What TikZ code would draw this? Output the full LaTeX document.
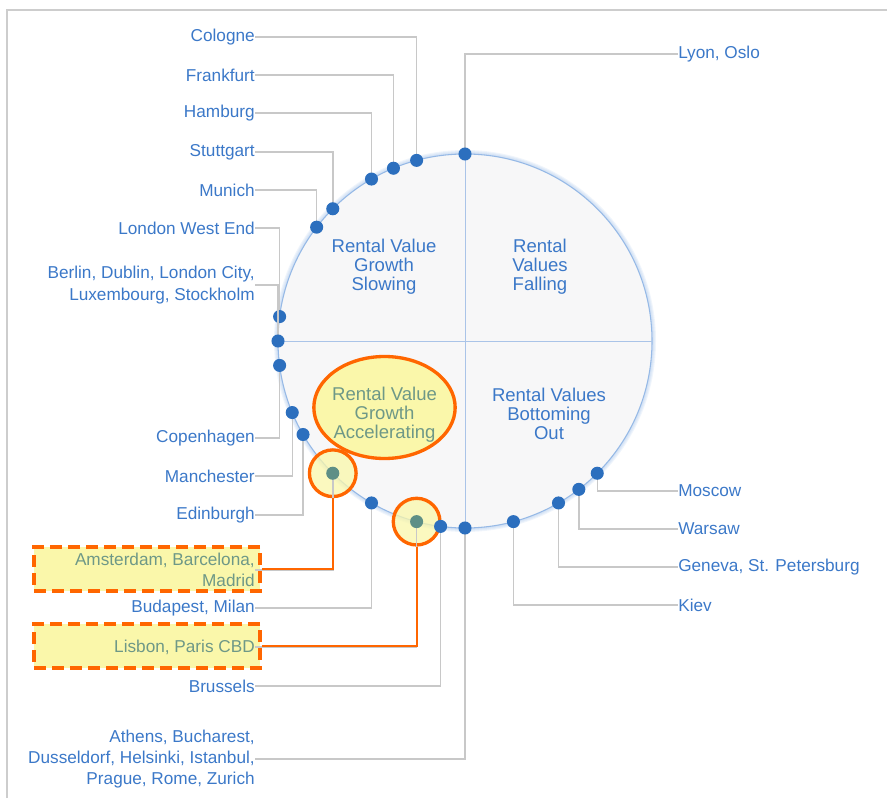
\documentclass[tikz,border=0pt]{standalone}
\usepackage{fontspec}
\setmainfont{Liberation Sans}
\usetikzlibrary{positioning, shapes.geometric}
\definecolor{rvBlue}{RGB}{ 59,120,200}
\definecolor{rvDot}{RGB}{ 44,111,190}
\definecolor{rvLine}{RGB}{200,200,200}
\definecolor{rvRim}{RGB}{150,185,230}
\definecolor{rvQuad}{RGB}{170,196,232}
\definecolor{rvFill}{RGB}{247,247,248}
\definecolor{rvOrange}{RGB}{255,102,  0}
\definecolor{rvYellow}{RGB}{250,247,170}
\definecolor{rvGreen}{RGB}{110,152,135}
\definecolor{rvTeal}{RGB}{ 94,143,134}
\definecolor{rvFrame}{RGB}{205,205,205}
\def\R{140.25pt}

\begin{document}
\begin{tikzpicture}[x=0.75pt, y=-0.75pt,
    lbl/.style={font=\fontsize{12.9}{16}\selectfont, inner sep=0pt, align=right},
    lbl-n/.style={lbl, text=rvBlue},
    lbl-h/.style={lbl, text=rvGreen},
    dot/.style={circle, inner sep=0pt, minimum size=9.8pt},
    dot-n/.style={dot, fill=rvDot},
    dot-h/.style={dot, fill=rvTeal},
    conn/.style={draw=rvLine, line width=1.1pt},
    quad/.style={text=rvBlue, font=\fontsize{13.9}{14.2}\selectfont, align=center},
    accel/.style={ellipse, draw=rvOrange, line width=2.5pt, fill=rvYellow,
                  inner sep=0pt, minimum width=106pt, minimum height=76.5pt},
    hilite/.style={circle, draw=rvOrange, line width=2.5pt, fill=rvYellow, fill opacity=0.75,
                   inner sep=0pt, minimum size=35pt},
    pickbox/.style={draw=rvOrange, line width=2.8pt, dash pattern=on 9pt off 4.5pt,
                    fill=rvYellow, inner sep=0pt, minimum width=169.5pt, minimum height=33pt}
  ]
  \useasboundingbox (0,0) rectangle (887,798);
  \draw[rvFrame, line width=1.5pt] (7,798) -- (7,10) -- (887,10);
  \coordinate (c) at (465,341);
  % highlighted boxes
  \node[pickbox, anchor=east] (box-amsterdam) at (262,569) {};
  \node[pickbox, anchor=east] (box-lisbon) at (262,646) {};
  % clock disc with glow
  \foreach \w in {2,4,6,8}
    \draw[rvRim, opacity=0.14, line width=\w*0.75pt] (c) circle[radius=\R];
  \draw[rvRim, fill=rvFill, line width=0.8pt] (c) circle[radius=\R];
  \draw[rvQuad, line width=0.75pt] ([shift={(90:\R)}]c) -- ([shift={(270:\R)}]c);
  \draw[rvQuad, line width=0.75pt] ([shift={(180:\R)}]c) -- ([shift={(0:\R)}]c);
  \node[quad] (q-slow) at (384,267) {Rental Value\\Growth\\Slowing};
  \node[quad] (q-fall) at (540,267) {Rental\\Values\\Falling};
  \node[quad] (q-out) at (549,414) {Rental Values\\Bottoming\\Out};
  \node[accel] (q-acc) at (384.5,407.5) {};
  \node[quad, text=rvGreen] (q-acc-txt) at (384.5,415) {Rental Value\\Growth\\Accelerating};
  \node[hilite] (hl-amsterdam) at ([shift={(225:\R)}]c) {};
  \node[hilite] (hl-lisbon) at ([shift={(255:\R)}]c) {};
  % cities on the left
  \foreach \ang/\name/\ly/\kind/\txt in {
      105/cologne/37/n/Cologne, 112.5/frankfurt/75/n/Frankfurt,
      120/hamburg/113/n/Hamburg, 135/stuttgart/152/n/Stuttgart,
      142.5/munich/190/n/Munich, 172.5/lwe/228/n/London West End,
      180/berlin/285/n/{Berlin, Dublin, London City,\\Luxembourg, Stockholm},
      187.5/copenhagen/438/n/Copenhagen, 202.5/manchester/476/n/Manchester,
      210/edinburgh/515/n/Edinburgh,
      225/amsterdam/570/h/{Amsterdam, Barcelona,\\Madrid},
      240/budapest/608/n/{Budapest, Milan}, 255/lisbon/647/h/{Lisbon, Paris CBD},
      262.5/brussels/686/n/Brussels,
      270/athens/759/n/{Athens, Bucharest,\\Dusseldorf, Helsinki, Istanbul,\\Prague, Rome, Zurich}} {
    \node[lbl-\kind, anchor=east] (l-\name) at (255,\ly) {\txt};
    \coordinate (p-\name) at ([shift={(\ang:\R)}]c);
    \draw[conn] (p-\name) |- (l-\name.east);
    \node[dot-\kind] (d-\name) at (p-\name) {};
  }
  % cities on the right
  \foreach \ang/\name/\ly/\txt in {
      90/lyon/54/{Lyon, Oslo}, 285/kiev/605/Kiev,
      300/geneva/567/{Geneva, St. Petersburg}, 307.5/warsaw/529/Warsaw,
      315/moscow/491/Moscow} {
    \node[lbl-n, align=left, anchor=west] (l-\name) at (678,\ly) {\txt};
    \coordinate (p-\name) at ([shift={(\ang:\R)}]c);
    \draw[conn] (p-\name) |- (l-\name.west);
    \node[dot-n] (d-\name) at (p-\name) {};
  }
  % orange call-outs
  \draw[rvOrange, line width=1.5pt] (hl-amsterdam.south) |- (box-amsterdam.east);
  \draw[rvOrange, line width=1.5pt] (hl-lisbon.south) |- (box-lisbon.east);
\end{tikzpicture}
\end{document}
